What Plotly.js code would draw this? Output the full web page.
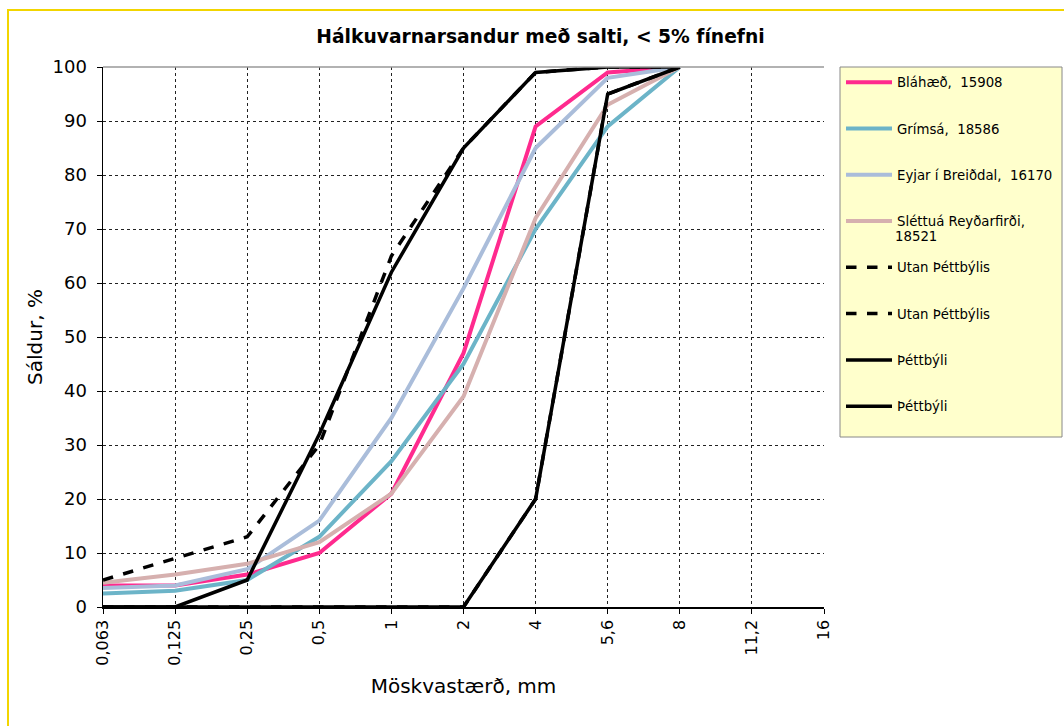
<!DOCTYPE html>
<html>
<head>
<meta charset="utf-8">
<script src="https://cdn.plot.ly/plotly-3.0.1.min.js"></script>
<style>
  html, body { margin: 0; padding: 0; background: #fff; }
  #frame { position: absolute; left: 7px; top: 9px; width: 1100px; height: 800px;
           border-left: 2px solid #F2D500; border-top: 2px solid #F2D500; }
  #chart { position: absolute; left: 0; top: 0; width: 1064px; height: 726px; }
</style>
</head>
<body>
<div id="frame"></div>
<div id="chart"></div>
<script>
// Sieve sizes (mm) — categorical, equally spaced
const sieveLabels = ["0,063", "0,125", "0,25", "0,5", "1", "2", "4", "5,6", "8", "11,2", "16"];

// Passing percent per sample (first 9 sieves)
const blahaed   = [4, 4, 6, 10, 21, 47, 89, 99, 100];
const grimsa    = [2.5, 3, 5, 13, 27, 45, 70, 89, 100];
const eyjar     = [3.5, 4, 7, 16, 35, 59, 85, 98, 100];
const slettua   = [4.5, 6, 8, 12, 21, 39, 72, 93, 100];
const utanUpper = [5, 9, 13, 30, 65, 85, 99, 100, 100];
const utanLower = [0, 0, 0, 0, 0, 0, 20, 95, 100];
const thettUpper = [0, 0, 5, 32, 62, 85, 99, 100, 100];
const thettLower = [0, 0, 0, 0, 0, 0, 20, 95, 100];

const seriesNames = ["Bláhæð,  15908", "Grímsá,  18586", "Eyjar í Breiðdal,  16170",
  "Sléttuá Reyðarfirði,", "Utan Þéttbýlis", "Utan Þéttbýlis", "Þéttbýli", "Þéttbýli"];
const slettuaSecondLine = "18521";

const xs = blahaed.map((_, i) => i);

function tr(y, name, color, dash, group, w) {
  return {
    x: xs, y: y, name: name, type: 'scatter', mode: 'lines',
    line: { color: color, width: w, dash: dash },
    legendgroup: group, hoverinfo: 'x+y+name'
  };
}

const data = [
  tr(blahaed, seriesNames[0], '#FF2A8E', 'solid', 'g1', 4),
  tr(grimsa, seriesNames[1], '#6CB4C8', 'solid', 'g2', 4),
  tr(eyjar, seriesNames[2], '#AABDDA', 'solid', 'g3', 4),
  tr(slettua, seriesNames[3], '#D6B0AF', 'solid', 'g4', 4),
  tr(utanUpper, seriesNames[4], '#000000', 'dash', 'g5', 3.5),
  tr(utanLower, seriesNames[5], '#000000', 'dash', 'g6', 3.5),
  tr(thettUpper, seriesNames[6], '#000000', 'solid', 'g7', 3.5),
  tr(thettLower, seriesNames[7], '#000000', 'solid', 'g8', 3.5)
];

const wideFont = '"DejaVu Sans", Verdana, sans-serif';

// legend box in paper coordinates (plot spans 103..824 px, 67..607 px)
const px2x = p => (p - 103) / 721;
const px2y = p => (607 - p) / 540;

const layout = {
  width: 1064, height: 726,
  paper_bgcolor: 'rgba(0,0,0,0)', plot_bgcolor: '#ffffff',
  margin: { l: 103, r: 240, t: 67, b: 119, autoexpand: false },
  font: { family: wideFont, color: '#000' },
  title: {
    text: '<b>Hálkuvarnarsandur með salti, < 5% fínefni</b>',
    font: { family: wideFont, size: 18.7, color: '#000' },
    x: 0.508, xref: 'container', xanchor: 'center',
    y: 0.95, yref: 'container', yanchor: 'middle'
  },
  xaxis: {
    range: [0, 10],
    tickvals: sieveLabels.map((_, i) => i),
    ticktext: sieveLabels,
    tickangle: -90,
    tickfont: { size: 16, family: wideFont },
    ticks: 'outside', ticklen: 5, tickcolor: '#000',
    showgrid: true, gridcolor: '#222', griddash: 'dot', gridwidth: 1,
    showline: true, linecolor: '#000', linewidth: 1.5,
    zeroline: false,
    title: { text: 'Möskvastærð, mm', font: { size: 20, family: wideFont }, standoff: 14 },
    fixedrange: true
  },
  yaxis: {
    range: [0, 100],
    dtick: 10,
    tickfont: { size: 18, family: wideFont },
    ticks: 'outside', ticklen: 5, tickcolor: '#000',
    ticklabelstandoff: 6,
    showgrid: true, gridcolor: '#222', griddash: 'dot', gridwidth: 1,
    showline: true, linecolor: '#000', linewidth: 1.5,
    zeroline: false,
    title: { text: 'Sáldur, %', font: { size: 20, family: wideFont }, standoff: 4 },
    fixedrange: true
  },
  shapes: [
    { type: 'line', xref: 'paper', yref: 'paper', x0: 0, x1: 1, y0: 1, y1: 1,
      line: { color: '#999', width: 1.5 } },
    { type: 'rect', xref: 'paper', yref: 'paper', layer: 'below',
      x0: px2x(840), x1: px2x(1062), y0: px2y(437), y1: px2y(67),
      fillcolor: '#FFFFCC', line: { color: '#888', width: 1 } }
  ],
  annotations: [
    { xref: 'paper', yref: 'paper', x: px2x(893), y: px2y(237),
      xanchor: 'left', yanchor: 'middle', showarrow: false,
      text: slettuaSecondLine, font: { size: 13.3, family: wideFont, color: '#000' } }
  ],
  showlegend: true,
  legend: {
    xref: 'paper', x: px2x(841), xanchor: 'left', y: 1, yanchor: 'top',
    bgcolor: 'rgba(0,0,0,0)', borderwidth: 0,
    font: { size: 13.3, family: wideFont, color: '#000' },
    traceorder: 'grouped', tracegroupgap: 26,
    itemwidth: 46
  }
};

Plotly.newPlot('chart', data, layout, { displayModeBar: false, staticPlot: true });
</script>
</body>
</html>
